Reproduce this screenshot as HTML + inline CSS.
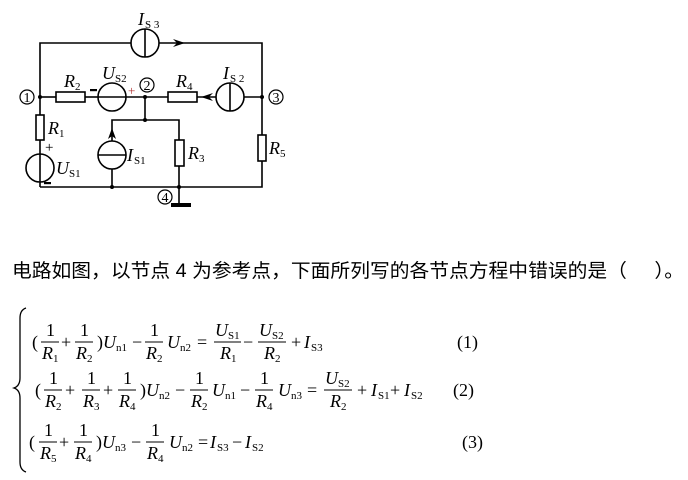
<!DOCTYPE html>
<html><head><meta charset="utf-8"><style>
html,body{margin:0;padding:0;background:#fff;}
svg{display:block}
.s{font-family:"Liberation Serif",serif;font-size:18px;fill:#000}
.i{font-style:italic}
.sub{font-size:11px;font-style:normal}
.c{font-family:"Liberation Serif",serif;font-size:14px;fill:#000}
</style></head><body>
<svg width="688" height="480" viewBox="0 0 688 480" xmlns="http://www.w3.org/2000/svg">
<g stroke="#000" stroke-width="1.6" fill="none">
<polyline points="40,187 40,43 131,43"/><polyline points="159,43 262,43 262,187 40,187"/>
<line x1="40" y1="97" x2="56" y2="97"/><line x1="85" y1="97" x2="98" y2="97"/>
<line x1="126" y1="97" x2="168" y2="97"/><line x1="197" y1="97" x2="216" y2="97"/>
<line x1="244" y1="97" x2="262" y2="97"/>
<line x1="145" y1="97" x2="145" y2="120"/><polyline points="112,141 112,120 179,120 179,140"/>
<line x1="112" y1="169" x2="112" y2="187"/><line x1="179" y1="166" x2="179" y2="205"/>
<rect x="56" y="92" width="29" height="10" fill="#fff"/>
<rect x="168" y="92" width="29" height="10" fill="#fff"/>
<rect x="36" y="115" width="8" height="25" fill="#fff"/>
<rect x="175" y="140" width="9" height="26" fill="#fff"/>
<rect x="258" y="135" width="8" height="26" fill="#fff"/>
<circle cx="145" cy="43" r="14" fill="#fff"/><line x1="145" y1="29" x2="145" y2="57"/>
<circle cx="112" cy="97" r="14" fill="#fff"/><line x1="98" y1="97" x2="126" y2="97"/>
<circle cx="230" cy="97" r="14" fill="#fff"/><line x1="230" y1="83" x2="230" y2="111"/>
<circle cx="40" cy="168" r="14" fill="#fff"/><line x1="40" y1="154" x2="40" y2="182"/>
<circle cx="112" cy="155" r="14" fill="#fff"/><line x1="98" y1="155" x2="126" y2="155"/>
<circle cx="27" cy="97" r="7" stroke-width="1.2"/>
<circle cx="147" cy="85" r="7" stroke-width="1.2"/>
<circle cx="276" cy="97" r="7" stroke-width="1.2"/>
<circle cx="165" cy="197" r="7" stroke-width="1.2"/>
</g>
<path d="M173,39 L185,43 L173,47 L177,43Z" fill="#000"/>
<path d="M213,93 L201,97 L213,101 L209,97Z" fill="#000"/>
<path d="M108,139 L112,128 L116,139 L112,136Z" fill="#000"/>
<rect x="171" y="203" width="20" height="4" fill="#000"/>
<g fill="#000"><circle cx="40" cy="97" r="2"/><circle cx="145" cy="97" r="2"/><circle cx="262" cy="97" r="2"/><circle cx="145" cy="120" r="2"/><circle cx="112" cy="187" r="2"/><circle cx="179" cy="187" r="2"/></g>
<g class="c" text-anchor="middle"><text x="27" y="102">1</text><text x="147" y="90">2</text><text x="276" y="102">3</text><text x="165" y="202">4</text></g>
<g class="s">
<text x="138" y="25" xml:space="preserve"><tspan class="i">I</tspan><tspan class="sub" dx="1" dy="3">S 3</tspan></text>
<text x="64" y="87"><tspan class="i">R</tspan><tspan class="sub" dy="3">2</tspan></text>
<text x="102" y="79"><tspan class="i">U</tspan><tspan class="sub" dy="3">S2</tspan></text>
<rect x="90" y="89" width="7" height="2.2" fill="#000"/>
<text x="128" y="95" font-size="13" fill="#b03030">+</text>
<text x="176" y="87"><tspan class="i">R</tspan><tspan class="sub" dy="3">4</tspan></text>
<text x="223" y="79" xml:space="preserve"><tspan class="i">I</tspan><tspan class="sub" dx="1" dy="3">S 2</tspan></text>
<text x="48" y="134"><tspan class="i">R</tspan><tspan class="sub" dy="3">1</tspan></text>
<text x="45" y="152" font-size="15">+</text>
<rect x="44" y="182" width="7" height="2.2" fill="#000"/>
<text x="56" y="174"><tspan class="i">U</tspan><tspan class="sub" dy="3">S1</tspan></text>
<text x="127" y="161"><tspan class="i">I</tspan><tspan class="sub" dx="1" dy="3">S1</tspan></text>
<text x="188" y="159"><tspan class="i">R</tspan><tspan class="sub" dy="3">3</tspan></text>
<text x="269" y="154"><tspan class="i">R</tspan><tspan class="sub" dy="3">5</tspan></text>
</g>
<text x="12" y="277" xml:space="preserve" font-family="'Liberation Sans','Noto Sans CJK SC',sans-serif" font-size="19" textLength="672" lengthAdjust="spacingAndGlyphs">电路如图，以节点 4 为参考点，下面所列写的各节点方程中错误的是（&#160;&#160;&#160;&#160;&#160;）。</text>
<path d="M26,308 Q20,310 20,318 L20,378 Q20,386 14,388 Q20,390 20,398 L20,462 Q20,470 26,472" stroke="#000" stroke-width="1.3" fill="none"/>
<g class="s">
<text x="32" y="348">(</text>
<line x1="41" y1="342" x2="59" y2="342" stroke="#000"/><text x="46" y="336">1</text><text x="42" y="359" class="i">R<tspan class="sub" dy="3">1</tspan></text>
<text x="61" y="348">+</text>
<line x1="75" y1="342" x2="93" y2="342" stroke="#000"/><text x="80" y="336">1</text><text x="76" y="359" class="i">R<tspan class="sub" dy="3">2</tspan></text>
<text x="97" y="348">)</text><text x="103" y="348" class="i">U<tspan class="sub" dy="3">n1</tspan></text>
<text x="132" y="348">−</text>
<line x1="145" y1="342" x2="163" y2="342" stroke="#000"/><text x="150" y="336">1</text><text x="146" y="359" class="i">R<tspan class="sub" dy="3">2</tspan></text>
<text x="167" y="348" class="i">U<tspan class="sub" dy="3">n2</tspan></text>
<text x="197" y="348">=</text>
<line x1="214" y1="342" x2="241" y2="342" stroke="#000"/><text x="215" y="336" class="i">U<tspan class="sub" dy="3">S1</tspan></text><text x="220" y="359" class="i">R<tspan class="sub" dy="3">1</tspan></text>
<text x="243" y="348">−</text>
<line x1="258" y1="342" x2="286" y2="342" stroke="#000"/><text x="259" y="336" class="i">U<tspan class="sub" dy="3">S2</tspan></text><text x="264" y="359" class="i">R<tspan class="sub" dy="3">2</tspan></text>
<text x="291" y="348">+</text><text x="304" y="348" class="i">I<tspan class="sub" dx="1" dy="3">S3</tspan></text>
<text x="457" y="348">(1)</text>
<text x="35" y="396">(</text>
<line x1="44" y1="390" x2="62" y2="390" stroke="#000"/><text x="49" y="384">1</text><text x="45" y="407" class="i">R<tspan class="sub" dy="3">2</tspan></text>
<text x="65" y="396">+</text>
<line x1="82" y1="390" x2="100" y2="390" stroke="#000"/><text x="87" y="384">1</text><text x="83" y="407" class="i">R<tspan class="sub" dy="3">3</tspan></text>
<text x="103" y="396">+</text>
<line x1="118" y1="390" x2="136" y2="390" stroke="#000"/><text x="123" y="384">1</text><text x="119" y="407" class="i">R<tspan class="sub" dy="3">4</tspan></text>
<text x="140" y="396">)</text><text x="146" y="396" class="i">U<tspan class="sub" dy="3">n2</tspan></text>
<text x="175" y="396">−</text>
<line x1="190" y1="390" x2="208" y2="390" stroke="#000"/><text x="195" y="384">1</text><text x="191" y="407" class="i">R<tspan class="sub" dy="3">2</tspan></text>
<text x="212" y="396" class="i">U<tspan class="sub" dy="3">n1</tspan></text>
<text x="240" y="396">−</text>
<line x1="255" y1="390" x2="273" y2="390" stroke="#000"/><text x="260" y="384">1</text><text x="256" y="407" class="i">R<tspan class="sub" dy="3">4</tspan></text>
<text x="278" y="396" class="i">U<tspan class="sub" dy="3">n3</tspan></text>
<text x="307" y="396">=</text>
<line x1="324" y1="390" x2="352" y2="390" stroke="#000"/><text x="325" y="384" class="i">U<tspan class="sub" dy="3">S2</tspan></text><text x="330" y="407" class="i">R<tspan class="sub" dy="3">2</tspan></text>
<text x="357" y="396">+</text><text x="371" y="396" class="i">I<tspan class="sub" dx="1" dy="3">S1</tspan></text>
<text x="390" y="396">+</text><text x="404" y="396" class="i">I<tspan class="sub" dx="1" dy="3">S2</tspan></text>
<text x="453" y="396">(2)</text>
<text x="29" y="448">(</text>
<line x1="39" y1="442" x2="57" y2="442" stroke="#000"/><text x="44" y="436">1</text><text x="40" y="459" class="i">R<tspan class="sub" dy="3">5</tspan></text>
<text x="59" y="448">+</text>
<line x1="74" y1="442" x2="92" y2="442" stroke="#000"/><text x="79" y="436">1</text><text x="75" y="459" class="i">R<tspan class="sub" dy="3">4</tspan></text>
<text x="96" y="448">)</text><text x="102" y="448" class="i">U<tspan class="sub" dy="3">n3</tspan></text>
<text x="131" y="448">−</text>
<line x1="146" y1="442" x2="164" y2="442" stroke="#000"/><text x="151" y="436">1</text><text x="147" y="459" class="i">R<tspan class="sub" dy="3">4</tspan></text>
<text x="169" y="448" class="i">U<tspan class="sub" dy="3">n2</tspan></text>
<text x="198" y="448">=</text>
<text x="210" y="448" class="i">I<tspan class="sub" dx="1" dy="3">S3</tspan></text>
<text x="232" y="448">−</text>
<text x="245" y="448" class="i">I<tspan class="sub" dx="1" dy="3">S2</tspan></text>
<text x="462" y="448">(3)</text>
</g>
</svg>
</body></html>
